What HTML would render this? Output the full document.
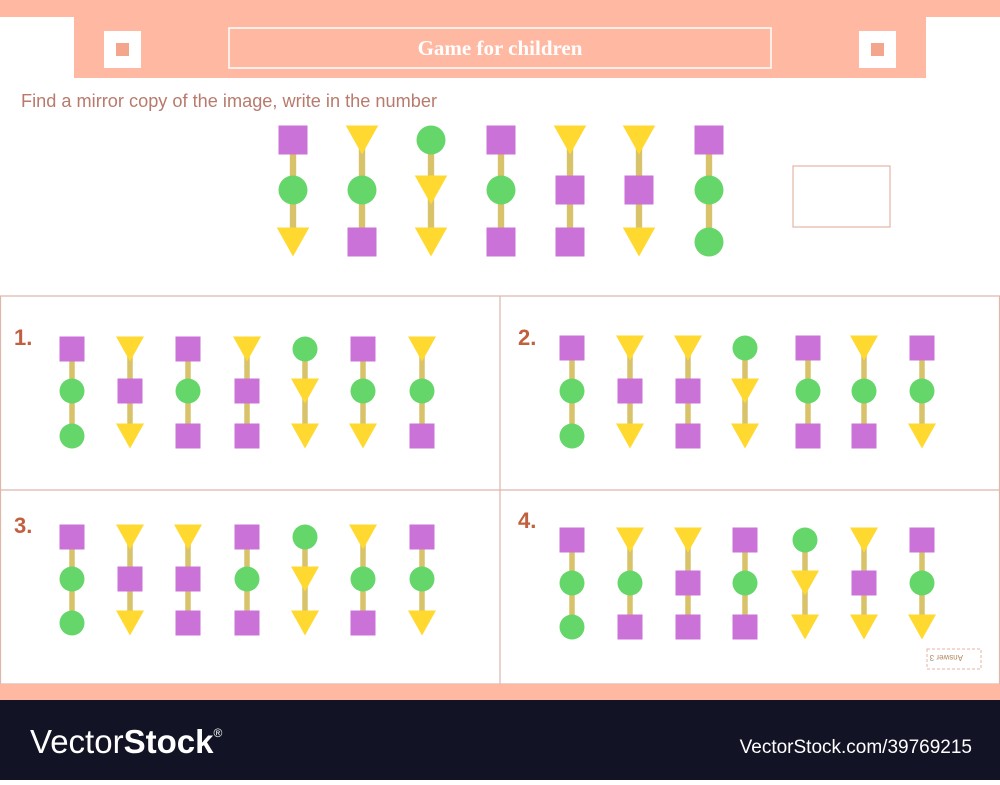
<!DOCTYPE html>
<html><head><meta charset="utf-8"><style>
body{margin:0;width:1000px;height:780px;overflow:hidden;background:#fff;font-family:"Liberation Sans",sans-serif}
</style></head><body>
<svg id="s" width="1000" height="780" xmlns="http://www.w3.org/2000/svg">
<rect x="0" y="0" width="1000" height="17" fill="#ffb8a1"/>
<rect x="74" y="0" width="852" height="78" fill="#ffb8a1"/>
<rect x="104" y="31" width="37" height="37" fill="#fff"/>
<rect x="116" y="43" width="13" height="13" fill="#f4a68d"/>
<rect x="859" y="31" width="37" height="37" fill="#fff"/>
<rect x="871" y="43" width="13" height="13" fill="#f4a68d"/>
<rect x="229" y="28" width="542" height="40" fill="none" stroke="#fff" stroke-width="1.5"/>
<text x="500" y="55" text-anchor="middle" fill="#fff" font-family="Liberation Serif,serif" font-weight="bold" font-size="21">Game for children</text>
<text x="21" y="107" fill="#b87a6c" font-size="18" textLength="416" lengthAdjust="spacingAndGlyphs">Find a mirror copy of the image, write in the number</text>
<rect x="793" y="166" width="97" height="61" fill="none" stroke="#e6b3a5" stroke-width="1.2"/>
<rect x="0.5" y="296" width="999" height="388" fill="none" stroke="#e0b5aa" stroke-width="1.2"/>
<line x1="0" y1="490" x2="1000" y2="490" stroke="#e0b5aa" stroke-width="1.2"/>
<line x1="500" y1="296" x2="500" y2="684" stroke="#e0b5aa" stroke-width="1.2"/>
<g font-weight="bold" font-size="22" fill="#c0603f">
<text x="14" y="345">1.</text>
<text x="518" y="345">2.</text>
<text x="14" y="533">3.</text>
<text x="518" y="528">4.</text>
</g>
<rect x="927" y="649" width="54" height="20" fill="none" stroke="#e6b3a5" stroke-dasharray="3 2"/>
<text x="945" y="663" font-size="8" fill="#b08a60" transform="rotate(180 954 659)">Answer 3</text>
<rect x="0" y="684" width="1000" height="16" fill="#ffb8a1"/>
<rect x="0" y="700" width="1000" height="80" fill="#121324"/>
<text x="30" y="753" fill="#fff" font-size="33"><tspan font-weight="normal">Vector</tspan><tspan font-weight="bold">Stock</tspan><tspan font-size="12" dy="-16">®</tspan></text>
<text x="972" y="753" text-anchor="end" fill="#fff" font-size="19">VectorStock.com/39769215</text>
<g id="marks"></g>
</svg>
<script>
const topCols=["SCT","TCS","CTT","SCS","TSS","TST","SCC"];
const opt1=["SCC","TST","SCS","TSS","CTT","SCT","TCS"];
const opt2=["SCC","TST","TSS","CTT","SCS","TCS","SCT"];
const opt3=["SCC","TST","TSS","SCS","CTT","TCS","SCT"];
const opt4=["SCC","TCS","TSS","SCS","CTT","TST","SCT"];
const g=document.getElementById('marks');
const NS="http://www.w3.org/2000/svg";
function mk(t,a){const e=document.createElementNS(NS,t);for(const k in a)e.setAttribute(k,a[k]);g.appendChild(e);return e;}
function draw(cols,xs,ys,sz,name){
 cols.forEach((c,i)=>{
  const x=xs[i];
  const ln=mk('line',{x1:x,y1:ys[0],x2:x,y2:ys[2],stroke:'#d9c36a','stroke-width':sz*0.22});
  
  
  [...c].forEach((k,j)=>{
   const y=ys[j],h=sz/2;let e;
   if(k==='S')e=mk('rect',{x:x-h,y:y-h,width:sz,height:sz,fill:'#cb72d8'});
   else if(k==='C')e=mk('circle',{cx:x,cy:y,r:h,fill:'#64d66a'});
   else e=mk('polygon',{points:`${x-h*1.12},${y-h} ${x+h*1.12},${y-h} ${x},${y+h}`,fill:'#ffd930'});
   
   
  });
 });
}
draw(topCols,[293,362,431,501,570,639,709],[140,190,242],29,'target');
draw(opt1,[72,130,188,247,305,363,422],[349,391,436],25,'option1');
draw(opt2,[572,630,688,745,808,864,922],[348,391,436],25,'option2');
draw(opt3,[72,130,188,247,305,363,422],[537,579,623],25,'option3');
draw(opt4,[572,630,688,745,805,864,922],[540,583,627],25,'option4');
</script>
</body></html>
